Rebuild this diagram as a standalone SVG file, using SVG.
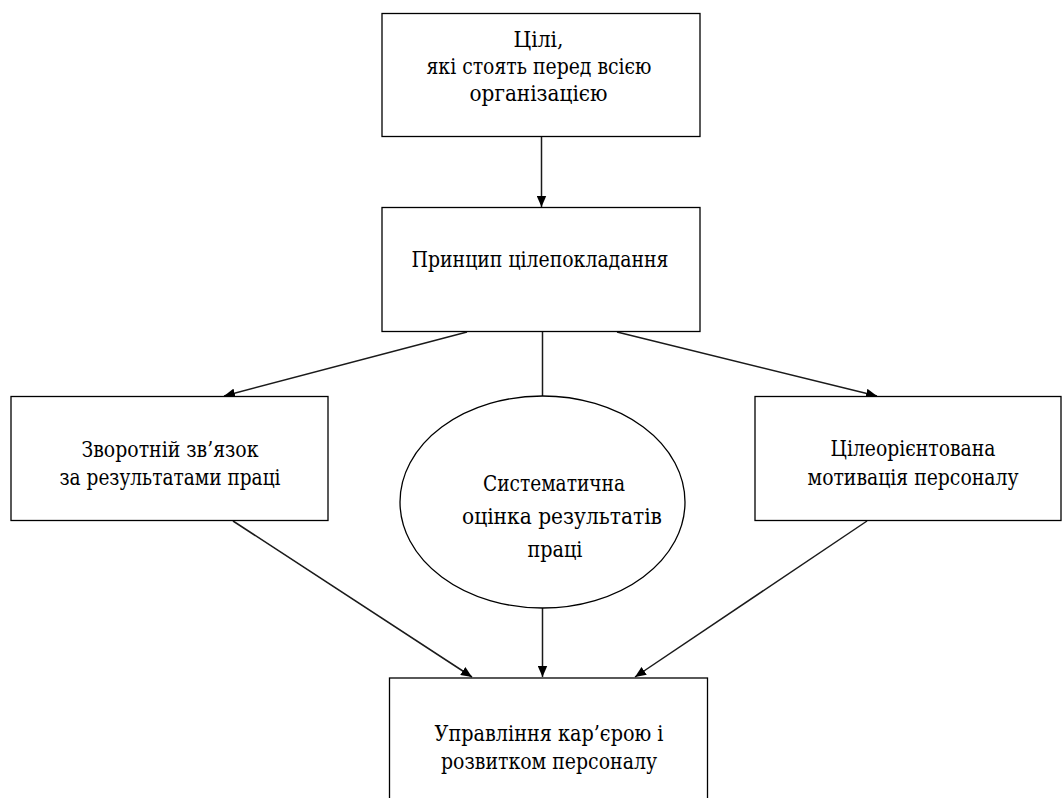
<svg xmlns="http://www.w3.org/2000/svg" width="1062" height="798" viewBox="0 0 1062 798">
<defs>
<style>
.box{fill:#fff;stroke:#000;stroke-width:1.3}
.t{font-family:'DejaVu Serif Condensed','DejaVu Serif',serif;font-size:22.5px;fill:#000;text-anchor:middle}
.c{stroke:#1a1a1a;stroke-width:1.5;fill:none}
</style>
<marker id="ah" viewBox="0 0 11 10" refX="11" refY="5" markerWidth="11" markerHeight="10" markerUnits="userSpaceOnUse" orient="auto">
<path d="M0,0.3 L11,5 L0,9.7 Z" fill="#000"/>
</marker>
</defs>
<rect width="1062" height="798" fill="#fff"/>
<g id="connectors">
<line class="c" x1="541.5" y1="137" x2="541.5" y2="207" marker-end="url(#ah)"/>
<line class="c" x1="467" y1="332" x2="224" y2="396" marker-end="url(#ah)"/>
<line class="c" x1="542.5" y1="332" x2="542.5" y2="396"/>
<line class="c" x1="617" y1="332" x2="877" y2="396" marker-end="url(#ah)"/>
<line class="c" x1="233" y1="521" x2="472" y2="677" marker-end="url(#ah)"/>
<line class="c" x1="542.5" y1="608" x2="542.5" y2="677" marker-end="url(#ah)"/>
<line class="c" x1="867" y1="521" x2="635" y2="677" marker-end="url(#ah)"/>
</g>
<g id="n1">
<rect class="box" x="382" y="13.5" width="318" height="123"/>
<text class="t" x="538.5" y="47" textLength="50" lengthAdjust="spacingAndGlyphs">Цілі,</text>
<text class="t" x="539" y="74" textLength="225" lengthAdjust="spacingAndGlyphs">які стоять перед всією</text>
<text class="t" x="538.5" y="101" textLength="138" lengthAdjust="spacingAndGlyphs">організацією</text>
</g>
<g id="n2">
<rect class="box" x="382" y="207.5" width="318" height="124"/>
<text class="t" x="540" y="267" textLength="257" lengthAdjust="spacingAndGlyphs">Принцип цілепокладання</text>
</g>
<g id="n3">
<rect class="box" x="11" y="396.5" width="317" height="124"/>
<text class="t" x="170" y="457" textLength="177" lengthAdjust="spacingAndGlyphs">Зворотній зв’язок</text>
<text class="t" x="170" y="485" textLength="221" lengthAdjust="spacingAndGlyphs">за результатами праці</text>
</g>
<g id="n4">
<ellipse class="box" cx="542.5" cy="502" rx="142.5" ry="106"/>
<text class="t" x="554" y="491" textLength="142" lengthAdjust="spacingAndGlyphs">Систематична</text>
<text class="t" x="562" y="524" textLength="200" lengthAdjust="spacingAndGlyphs">оцінка результатів</text>
<text class="t" x="555" y="557" textLength="55" lengthAdjust="spacingAndGlyphs">праці</text>
</g>
<g id="n5">
<rect class="box" x="755" y="396.5" width="306" height="124"/>
<text class="t" x="913" y="456" textLength="165" lengthAdjust="spacingAndGlyphs">Цілеорієнтована</text>
<text class="t" x="913" y="485" textLength="211" lengthAdjust="spacingAndGlyphs">мотивація персоналу</text>
</g>
<g id="n6">
<rect class="box" x="389.5" y="678" width="318" height="140"/>
<text class="t" x="549" y="741" textLength="229" lengthAdjust="spacingAndGlyphs">Управління кар’єрою і</text>
<text class="t" x="549" y="769" textLength="216" lengthAdjust="spacingAndGlyphs">розвитком персоналу</text>
</g>
</svg>
